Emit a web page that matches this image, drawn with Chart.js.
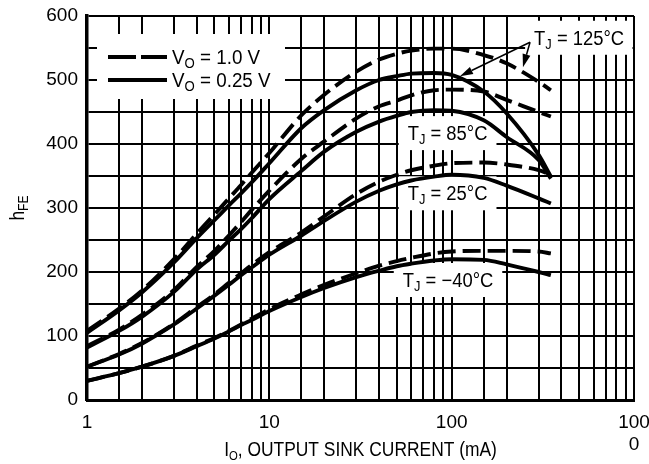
<!DOCTYPE html>
<html><head><meta charset="utf-8">
<style>html,body{margin:0;padding:0;background:#fff;overflow:hidden;} canvas{display:block;}</style>
<script src="https://cdn.jsdelivr.net/npm/chart.js@4.4.1/dist/chart.umd.min.js"></script>
</head><body>
<canvas id="c" width="649" height="464"></canvas>
<script>
// ---- data ----
const current = [1,1.5,2,3,4,5,6,7,8,10,15,20,30,40,50,60,80,100,150,200,300,350];
const hfe125_1V   = [108,143,171,220,260,290,315,336,355,386,445,477,513,532,541,546,549,549,539,526,497,484];
const hfe125_025V = [105,140,168,215,253,281,304,323,340,370,425,453,484,500,506,510,511,508,482,448,383,349];
const hfe85_1V    = [84,110,133,172,208,233,257,278,297,327,377,404,440,459,468,476,484,485,482,469,450,443];
const hfe85_025V  = [82,108,130,169,204,227,249,267,284,314,358,388,419,435,444,450,453,452,437,411,375,346];
const hfe25_1V    = [52,72,89,119,145,165,183,198,211,231,262,287,322,341,352,359,366,370,371,368,359,352];
const hfe25_025V  = [52,71,88,118,143,163,180,195,207,227,257,280,310,327,337,343,349,352,347,335,315,307];
const hfeM40_1V   = [30,42,52,69,85,97,108,118,127,142,165,180,198,210,217,222,229,232,233,233,232,229];
const hfeM40_025V = [30,42,52,69,84,96,107,117,125,139,161,175,192,202,209,213,218,220,219,212,200,195];

const xDecades = [1,10,100];
const xGridMultipliers = [1,1.5,2,3,4,5,6,7,8,9];
const xLabelValues = [1,10,100,1000];
const xLabelTexts = ['1','10','100',['100','0']];
const yLabelValues = [0,100,200,300,400,500,600];

const tempLabels = [
  {temp:'125', x:500, y:566},
  {temp:'85',  x:95,  y:417},
  {temp:'25',  x:95,  y:323},
  {temp:'\u221240', x:95.5, y:187.5}
];
const arrowStart = {x:269, y:559};
const arrowTips = [{x:111, y:506}, {x:246, y:520}];

const FONT = "'Liberation Sans',Arial,sans-serif";

function pts(ys){ return current.map((c,i)=>({x:c, y:ys[i]})); }
const DASH = [18,7];
function ds(ys, dashed){
  return {data: pts(ys), borderColor:'#000', borderWidth:3.9, pointRadius:0,
    borderDash: dashed ? DASH : [], cubicInterpolationMode:'monotone', fill:false, borderCapStyle:'butt'};
}

function partsWidth(ctx, parts, sx){
  let w=0; for(const p of parts){ ctx.font = p.size+'px '+FONT; w += ctx.measureText(p.t).width; } return w*(sx||1);
}
function drawParts(ctx, parts, x, y, sx){
  ctx.save(); ctx.translate(x,y); ctx.scale(sx||1,1);
  ctx.textAlign='left'; ctx.textBaseline='alphabetic'; ctx.fillStyle='#000';
  let cx=0;
  for(const p of parts){ ctx.font = p.size+'px '+FONT; ctx.fillText(p.t, cx, (p.dy||0)); cx += ctx.measureText(p.t).width; }
  ctx.restore();
}
const LBL_SX = 0.92, LEG_SX = 0.94, TTL_SX = 0.87;
function tjParts(t){ return [{t:'T',size:20},{t:'J',size:14,dy:4},{t:' = '+t+'\u00B0C',size:20}]; }

const overlay = {
  id:'overlay',
  beforeDatasetsDraw(chart){
    const ctx=chart.ctx, xs=chart.scales.x, ys=chart.scales.y, ca=chart.chartArea;
    ctx.save(); ctx.fillStyle='#fff';
    for(const L of tempLabels){
      const w = partsWidth(ctx, tjParts(L.temp), LBL_SX);
      const cx = xs.getPixelForValue(L.x), cy = ys.getPixelForValue(L.y);
      let x1 = cx-w/2-9, x2 = cx+w/2+9, y1 = cy-17, y2 = cy+17;
      x1=Math.max(x1,ca.left+2); x2=Math.min(x2,ca.right-1.5); y1=Math.max(y1,ca.top+1.5); y2=Math.min(y2,ca.bottom-2);
      ctx.fillRect(x1,y1,x2-x1,y2-y1);
    }
    ctx.fillRect(ca.left+10, ca.top+18, 188, 65);
    ctx.restore();
  },
  afterDatasetsDraw(chart){
    const ctx=chart.ctx, xs=chart.scales.x, ys=chart.scales.y, ca=chart.chartArea;
    ctx.save();
    for(const L of tempLabels){
      const parts=tjParts(L.temp); const w=partsWidth(ctx,parts,LBL_SX);
      const cx = xs.getPixelForValue(L.x), cy = ys.getPixelForValue(L.y);
      drawParts(ctx, parts, cx-w/2, cy+7, LBL_SX);
    }
    const sx=xs.getPixelForValue(arrowStart.x), sy=ys.getPixelForValue(arrowStart.y);
    ctx.strokeStyle='#000'; ctx.fillStyle='#000'; ctx.lineWidth=1.5;
    for(const T of arrowTips){
      const tx=xs.getPixelForValue(T.x), ty=ys.getPixelForValue(T.y);
      const a=Math.atan2(ty-sy, tx-sx), hl=13, hw=4;
      const bx=tx-hl*Math.cos(a), by=ty-hl*Math.sin(a);
      ctx.beginPath(); ctx.moveTo(sx,sy); ctx.lineTo(bx,by); ctx.stroke();
      ctx.beginPath(); ctx.moveTo(tx,ty);
      ctx.lineTo(bx+hw*Math.sin(a), by-hw*Math.cos(a));
      ctx.lineTo(bx-hw*Math.sin(a), by+hw*Math.cos(a));
      ctx.closePath(); ctx.fill();
    }
    ctx.lineWidth=4; ctx.lineCap='butt';
    ctx.setLineDash([28,5]);
    ctx.beginPath(); ctx.moveTo(ca.left+21, ca.top+41); ctx.lineTo(ca.left+80, ca.top+41); ctx.stroke();
    ctx.setLineDash([]);
    ctx.beginPath(); ctx.moveTo(ca.left+21, ca.top+64); ctx.lineTo(ca.left+80, ca.top+64); ctx.stroke();
    drawParts(ctx, [{t:'V',size:20},{t:'O',size:14,dy:4},{t:' = 1.0 V',size:20}], ca.left+85, ca.top+48, LEG_SX);
    drawParts(ctx, [{t:'V',size:20},{t:'O',size:14,dy:4},{t:' = 0.25 V',size:20}], ca.left+85, ca.top+71, LEG_SX);
    ctx.restore();
  },
  afterDraw(chart){
    const ctx=chart.ctx, ca=chart.chartArea;
    ctx.save();
    const xt=[{t:'I',size:20},{t:'O',size:13,dy:4},{t:', OUTPUT SINK CURRENT (mA)',size:20}];
    const w=partsWidth(ctx,xt,TTL_SX);
    drawParts(ctx, xt, (ca.left+ca.right)/2 - w/2, 456, TTL_SX);
    ctx.translate(24, (ca.top+ca.bottom)/2); ctx.rotate(-Math.PI/2);
    const yt=[{t:'h',size:20},{t:'FE',size:14,dy:4}];
    const w2=partsWidth(ctx,yt,TTL_SX);
    drawParts(ctx, yt, -w2/2, 0, TTL_SX);
    ctx.restore();
  }
};

const gridTicks = [];
for(const d of xDecades) for(const m of xGridMultipliers) gridTicks.push(d*m);
gridTicks.push(1000);

new Chart(document.getElementById('c'), {
  type:'line',
  data:{ datasets:[
    ds(hfe125_1V,true), ds(hfe125_025V,false),
    ds(hfe85_1V,true), ds(hfe85_025V,false),
    ds(hfe25_1V,true), ds(hfe25_025V,false),
    ds(hfeM40_1V,true), ds(hfeM40_025V,false)
  ]},
  options:{
    responsive:false, animation:false, devicePixelRatio:1,
    layout:{padding:{left:0,right:15,top:16,bottom:0}},
    plugins:{legend:{display:false}, tooltip:{enabled:false}},
    scales:{
      x:{ type:'logarithmic', min:1, max:1000,
        afterBuildTicks(axis){ axis.ticks = gridTicks.map(v=>({value:v})); },
        afterFit(s){ s.height = 64; s.paddingLeft = 0; s.paddingRight = 0; },
        grid:{color:'#000', lineWidth:2, drawTicks:false},
        border:{color:'#000', width:3},
        ticks:{ autoSkip:false, maxRotation:0, padding:11, color:'#000',
          font:{family:FONT, size:19, lineHeight:1.2},
          callback(v){ const i = xLabelValues.indexOf(v); return i>=0 ? xLabelTexts[i] : ''; } }
      },
      y:{ min:0, max:600,
        afterFit(s){ s.width = 87; s.paddingTop = 0; s.paddingBottom = 0; },
        grid:{color:'#000', lineWidth:2, drawTicks:false},
        border:{color:'#000', width:3.5},
        ticks:{ stepSize:50, padding:9, color:'#000', font:{family:FONT, size:19},
          callback(v){ return yLabelValues.includes(v) ? String(v) : ''; } }
      }
    }
  },
  plugins:[overlay]
});
</script>
</body></html>
